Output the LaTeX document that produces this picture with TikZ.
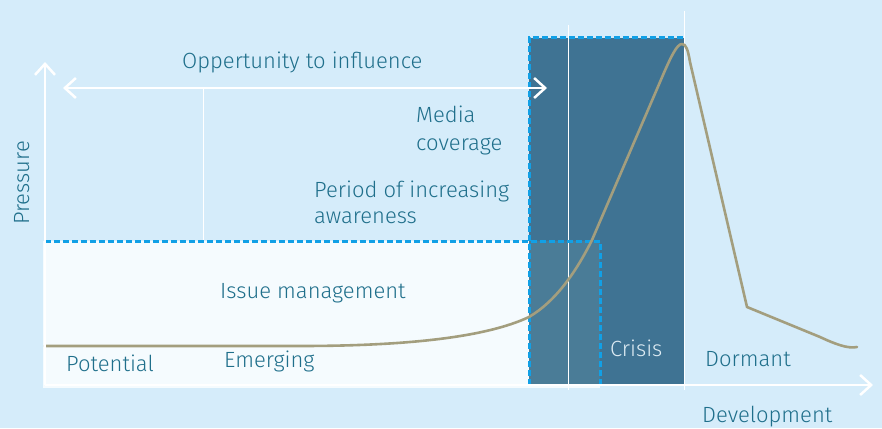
\documentclass[tikz,border=0pt]{standalone}
\usepackage{fontspec}
\setmainfont{Fira Sans}[UprightFont=* Light]
\usetikzlibrary{arrows.meta}
\definecolor{bg}{HTML}{D5ECFA}
\definecolor{lightbox}{HTML}{F5FBFE}
\definecolor{darkbox}{HTML}{3F7393}
\definecolor{overlapc}{HTML}{4A7C97}
\definecolor{dashblue}{HTML}{11A0E6}
\definecolor{curvecol}{HTML}{A39E7E}
\definecolor{txt}{HTML}{1F6F8B}
\definecolor{crisistxt}{HTML}{DDEBF3}
\begin{document}
\begin{tikzpicture}[x=1pt,y=-1pt,
  lbl/.style={anchor=base west, inner sep=0pt, text=txt, font=\fontsize{22}{27}\selectfont, align=left},
  dashedge/.style={draw=dashblue, line width=3pt, dash pattern=on 6pt off 3pt},
  whiteln/.style={draw=white, line width=1pt},
  barb/.tip={Straight Barb[length=11pt,width=20pt]},
  axis/.style={draw=white, line width=2.5pt, -barb},
  curve/.style={draw=curvecol, line width=2.6pt, line join=round, line cap=round}]
\fill[bg] (0,0) rectangle (882,428);
\useasboundingbox (0,0) rectangle (882,428);
% boxes
\fill[lightbox] (43,241) rectangle (600,388);
\fill[darkbox] (529,38) rectangle (684,385);
\fill[overlapc] (529,241) rectangle (600,385);
% thin white lines
\coordinate (v1t) at (203,88);  \coordinate (v1b) at (203,241);
\coordinate (v2t) at (568,25);  \coordinate (v2b) at (568,390);
\coordinate (v3t) at (684,11);  \coordinate (v3b) at (684,390);
\draw[whiteln] (v1t) -- (v1b);
\draw[whiteln] (v2t) -- (v2b);
\draw[whiteln] (v3t) -- (v3b);
% dashed edges
\draw[dashedge] (529,385) -- (529,38) -- (684,38);
\draw[dashedge] (45,241) -- (600,241) -- (600,385);
% curve
\draw[curve] (45,346) -- (300,346)
  .. controls (430,346) and (495,333) .. (529,317)
  .. controls (556,301) and (576,272) .. (592,240)
  -- (660,82)
  .. controls (671,56) and (677,44) .. (682,44)
  .. controls (686,44) and (688,50) .. (690,62)
  -- (747,307) -- (820,337)
  .. controls (835,344) and (848,349) .. (857,347);
% axes
\coordinate (O) at (45,385);
\coordinate (ytip) at (45,62);
\coordinate (xtip) at (873,385);
\draw[axis] (O) -- (ytip);
\draw[axis] (O) -- (xtip);
\coordinate (infl) at (63,88);
\coordinate (infr) at (547,88);
\draw[axis, barb-barb] (infl) -- (infr);
% labels
\node[lbl] (opp) at (182,68) {Oppertunity to influence};
\node[lbl, font=\fontsize{22}{28}\selectfont] (media) at (416,150) {Media\\coverage};
\node[lbl, font=\fontsize{22}{26}\selectfont] (period) at (314,223) {Period of increasing\\awareness};
\node[lbl] (issue) at (220,298) {Issue management};
\node[lbl] (pot) at (66,371) {Potential};
\node[lbl] (emer) at (224,367) {Emerging};
\node[lbl, text=crisistxt] (crisis) at (610,356) {Crisis};
\node[lbl] (dorm) at (705,366) {Dormant};
\node[lbl] (dev) at (702,422) {Development};
\node[lbl, rotate=90] (press) at (29,225) {Pressure};
\end{tikzpicture}
\end{document}
